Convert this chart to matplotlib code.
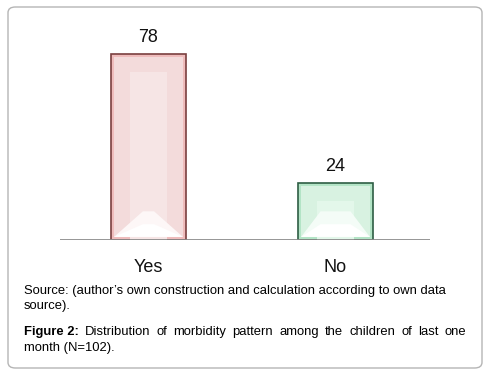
import matplotlib.pyplot as plt
from matplotlib.patches import FancyBboxPatch, Rectangle, Polygon

categories = ['Yes', 'No']
values = [78, 24]
fills = ['#f3dbdb', '#d8f2e1']
inner = ['#f6e5e5', '#e3f7ea']
stripes = ['#efbcbc', '#b3e4c6']
edges = ['#7a4040', '#2e5e44']

source_lines = ["Source: (author\u2019s own construction and calculation according to own data",
                "source)."]
caption_words = [("Figure 2:", True), ("Distribution", False), ("of", False), ("morbidity", False),
                 ("pattern", False), ("among", False), ("the", False), ("children", False),
                 ("of", False), ("last", False), ("one", False)]
caption_last = "month (N=102)."

plt.rcParams['font.family'] = ['Liberation Sans', 'DejaVu Sans']

W, H = 494, 379
fig = plt.figure(figsize=(W / 100, H / 100), dpi=100)

# rounded frame, behind everything
frame = FancyBboxPatch((8 / W, 1 - 368 / H), 474 / W, 361 / H,
                       boxstyle='round,pad=0,rounding_size=0.015',
                       transform=fig.transFigure, facecolor='none',
                       edgecolor='#b5b5b5', lw=1.0, zorder=-1)
fig.patches.append(frame)

ax = fig.add_axes([60 / W, 1 - 240 / H, 370 / W, 200 / H])
ax.set_xlim(-0.473, 1.505)
ax.set_ylim(0, 200 / 2.39)
ax.axis('off')

bw = 0.40
for i, v in enumerate(values):
    x0 = i - bw / 2
    ax.add_patch(Rectangle((x0, 0), bw, v, facecolor=stripes[i], edgecolor=edges[i], lw=1.2, zorder=2))
    # bevel layers
    dx, dy = 0.016, 1.3
    ax.add_patch(Rectangle((x0 + dx, dy), bw - 2 * dx, v - 2 * dy, facecolor=fills[i], lw=0, zorder=3))
    ix, iy = 0.10, 7.5
    ih = max(v - iy, 0)
    ax.add_patch(Rectangle((x0 + ix, 0), bw - 2 * ix, ih, facecolor=inner[i], lw=0, zorder=3))
    tri_h = min(12.0, v * 0.5)
    top_w = 0.03 if v > 40 else 0.08
    ax.add_patch(Polygon([(x0 + dx, dy), (x0 + bw - dx, dy), (i + top_w, tri_h), (i - top_w, tri_h)],
                         closed=True, facecolor='#fdf7f7' if i == 0 else '#f4fcf7', lw=0, zorder=4))
    ax.add_patch(Polygon([(x0 + dx, dy), (x0 + bw - dx, dy), (i + top_w, tri_h * 0.55),
                          (i - top_w, tri_h * 0.55)],
                         closed=True, facecolor='white', lw=0, zorder=4))
    ax.text(i, v + 3.0, str(v), ha='center', va='bottom', fontsize=13, color='#111111')
    ax.text(i, -8, categories[i], ha='center', va='top', fontsize=13, color='#111111')

ax.axhline(0, color='#8c8c8c', lw=2, zorder=5)

fs = 9.35
fig.text(24 / W, 1 - 291 / H, source_lines[0], fontsize=fs, va='center', ha='left')
fig.text(24 / W, 1 - 306 / H, source_lines[1], fontsize=fs, va='center', ha='left')

# justified caption line
fig.canvas.draw()
r = fig.canvas.get_renderer()
left, right = 24, 466
tmp = []
total = 0
for w, bold in caption_words:
    t = fig.text(0, 0, w, fontsize=fs, fontweight='bold' if bold else 'normal')
    wd = t.get_window_extent(r).width
    tmp.append((t, wd))
    total += wd
gap = (right - left - total) / (len(tmp) - 1)
x = left
for t, wd in tmp:
    t.set_position((x / W, 1 - 332 / H))
    t.set_va('center')
    x += wd + gap
fig.text(24 / W, 1 - 348 / H, caption_last, fontsize=fs, va='center', ha='left')

fig.savefig('out.png', dpi=100)
